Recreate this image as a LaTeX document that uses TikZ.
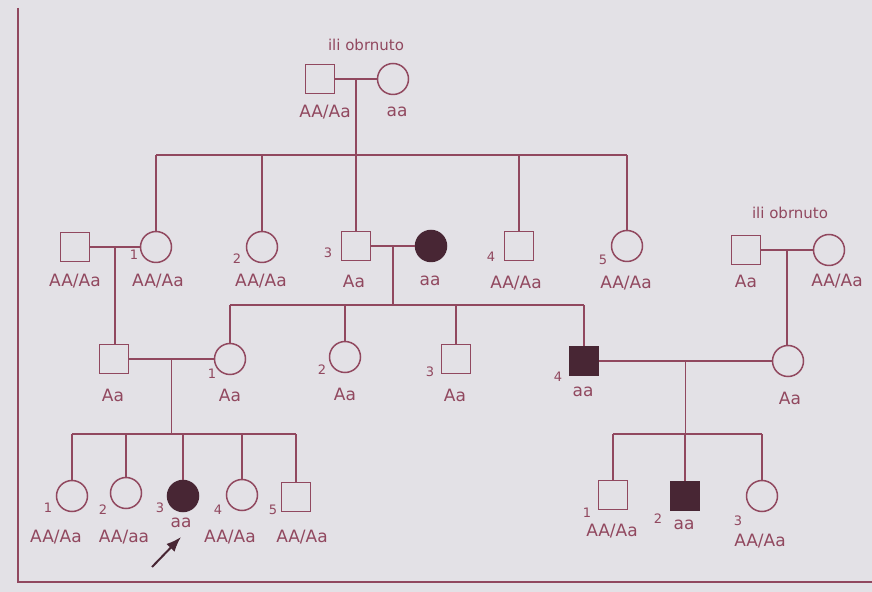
\documentclass[tikz,border=0pt]{standalone}
\usepackage{fontspec}
\setmainfont{DejaVu Sans}
\usetikzlibrary{arrows.meta,positioning,calc}

\definecolor{paper}{RGB}{227,225,230}
\definecolor{ink}{RGB}{145,72,95}
\definecolor{dark}{RGB}{72,38,52}

\begin{document}
\begin{tikzpicture}[
  x=0.5pt, y=-0.5pt,
  font=\fontsize{8.5}{10}\selectfont,
  >=Latex,
  line width=0.75pt,
  male/.style={draw=ink, minimum size=14.5pt, inner sep=0pt},
  female/.style={circle, draw=ink, minimum size=15.5pt, inner sep=0pt},
  affm/.style={male, fill=dark, draw=dark},
  afff/.style={female, fill=dark, draw=dark},
  geno/.style={text=ink, inner sep=1pt},
  num/.style={text=ink, font=\fontsize{6.5}{7}\selectfont, inner sep=1pt},
  note/.style={text=ink, font=\fontsize{7.5}{9}\selectfont},
  link/.style={draw=ink}
]

% ---- Paper and frame ----
\fill[paper] (0,0) rectangle (872,592);
\useasboundingbox (0,0) rectangle (872,592);
\draw[ink, line width=1.2pt] (18,8) -- (18,582) -- (872,582);

% ---- Generation I ----
\node[note] (orI) at (366,45) {ili obrnuto};
\node[male] (Isq) at (320,79) {};
\node[female] (Ici) at (393,79) {};
\node[geno] (gIsq) at (325,112) {AA/Aa};
\node[geno] (gIci) at (397,112) {aa};

% ---- Generation II ----
\node[male] (IIsp) at (75,247) {};
\node[female] (IIa) at (156,247) {};
\node[female] (IIb) at (262,247) {};
\node[male] (IIc) at (356,246) {};
\node[afff] (IId) at (431,246) {};
\node[male] (IIe) at (519,246) {};
\node[female] (IIf) at (627,246) {};
\node[num] (nIIa) at (134,255) {1};
\node[num] (nIIb) at (237,259) {2};
\node[num] (nIIc) at (328,253) {3};
\node[num] (nIIe) at (491,257) {4};
\node[num] (nIIf) at (603,260) {5};
\node[geno] (gIIsp) at (75,281) {AA/Aa};
\node[geno] (gIIa) at (158,281) {AA/Aa};
\node[geno] (gIIb) at (261,281) {AA/Aa};
\node[geno] (gIIc) at (354,281) {Aa};
\node[geno] (gIId) at (430,281) {aa};
\node[geno] (gIIe) at (516,283) {AA/Aa};
\node[geno] (gIIf) at (626,283) {AA/Aa};

% right couple
\node[note] (orR) at (790,213) {ili obrnuto};
\node[male] (Rsq) at (746,250) {};
\node[female] (Rci) at (829,250) {};
\node[geno] (gRsq) at (746,281) {Aa};
\node[geno] (gRci) at (837,281) {AA/Aa};

% ---- Generation III ----
\node[male] (IIIsp) at (114,359) {};
\node[female] (IIIa) at (230,359) {};
\node[female] (IIIb) at (345,357) {};
\node[male] (IIIc) at (456,359) {};
\node[affm] (IIId) at (584,361) {};
\node[female] (IIIsp2) at (788,361) {};
\node[num] (nIIIa) at (212,374) {1};
\node[num] (nIIIb) at (322,370) {2};
\node[num] (nIIIc) at (430,372) {3};
\node[num] (nIIId) at (558,377) {4};
\node[geno] (gIIIsp) at (113,395) {Aa};
\node[geno] (gIIIa) at (230,395) {Aa};
\node[geno] (gIIIb) at (345,394) {Aa};
\node[geno] (gIIIc) at (455,395) {Aa};
\node[geno] (gIIId) at (583,392) {aa};
\node[geno] (gIIIsp2) at (790,398) {Aa};

% ---- Generation IV ----
\node[female] (IVa) at (72,496) {};
\node[female] (IVb) at (126,493) {};
\node[afff] (IVc) at (183,496) {};
\node[female] (IVd) at (242,495) {};
\node[male] (IVe) at (296,497) {};
\node[male] (IVf) at (613,495) {};
\node[affm] (IVg) at (685,496) {};
\node[female] (IVh) at (762,496) {};
\node[num] (nIVa) at (48,508) {1};
\node[num] (nIVb) at (103,510) {2};
\node[num] (nIVc) at (160,508) {3};
\node[num] (nIVd) at (218,510) {4};
\node[num] (nIVe) at (273,510) {5};
\node[num] (nIVf) at (587,513) {1};
\node[num] (nIVg) at (658,519) {2};
\node[num] (nIVh) at (738,521) {3};
\node[geno] (gIVa) at (56,537) {AA/Aa};
\node[geno] (gIVb) at (124,537) {AA/aa};
\node[geno] (gIVc) at (181,523) {aa};
\node[geno] (gIVd) at (230,537) {AA/Aa};
\node[geno] (gIVe) at (302,537) {AA/Aa};
\node[geno] (gIVf) at (612,531) {AA/Aa};
\node[geno] (gIVg) at (684,525) {aa};
\node[geno] (gIVh) at (760,541) {AA/Aa};

% ---- Sibship bars ----
\coordinate (sI) at (0,155);
\coordinate (sII) at (0,305);
\coordinate (sIIIl) at (0,434);
\coordinate (sIIIr) at (0,434);

% ---- Couples and descent ----
\foreach \a/\b in {Isq/Ici,IIsp/IIa,IIc/IId,Rsq/Rci,IIIsp/IIIa,IIId/IIIsp2} {
  \draw[link] (\a) -- (\b);
}
\coordinate (mI) at ($(Isq.east)!0.5!(Ici.west)$);
\coordinate (mIIa) at ($(IIsp.east)!0.5!(IIa.west)$);
\coordinate (mIIc) at ($(IIc.east)!0.5!(IId.west)$);
\coordinate (mR) at ($(Rsq.east)!0.5!(Rci.west)$);
\coordinate (mIIIa) at ($(IIIsp.east)!0.5!(IIIa.west)$);
\coordinate (mIIId) at ($(IIId.east)!0.5!(IIIsp2.west)$);

\draw[link] (mI) -- (mI |- sI);
\draw[link] (mIIc) -- (mIIc |- sII);
\draw[link] (mIIIa) -- (mIIIa |- sIIIl);
\draw[link] (mIIId) -- (mIIId |- sIIIr);
\draw[link] (mIIa) -- (mIIa |- IIIsp.north);
\draw[link] (mR) -- (mR |- IIIsp2.north);

\draw[link] (IIa |- sI) -- (IIf |- sI);
\draw[link] (IIIa |- sII) -- (IIId |- sII);
\draw[link] (IVa |- sIIIl) -- (IVe |- sIIIl);
\draw[link] (IVf |- sIIIr) -- (IVh |- sIIIr);

\foreach \c in {IIa,IIb,IIc,IIe,IIf} {
  \draw[link] (\c.north) -- (\c |- sI);
}
\foreach \c in {IIIa,IIIb,IIIc,IIId} {
  \draw[link] (\c.north) -- (\c |- sII);
}
\foreach \c in {IVa,IVb,IVc,IVd,IVe} {
  \draw[link] (\c.north) -- (\c |- sIIIl);
}
\foreach \c in {IVf,IVg,IVh} {
  \draw[link] (\c.north) -- (\c |- sIIIr);
}

% ---- Proband ----
\coordinate (ptail) at (152,567);
\coordinate (phead) at (181,537);
\draw[->, dark, line width=1pt] (ptail) -- (phead);

\end{tikzpicture}
\end{document}
